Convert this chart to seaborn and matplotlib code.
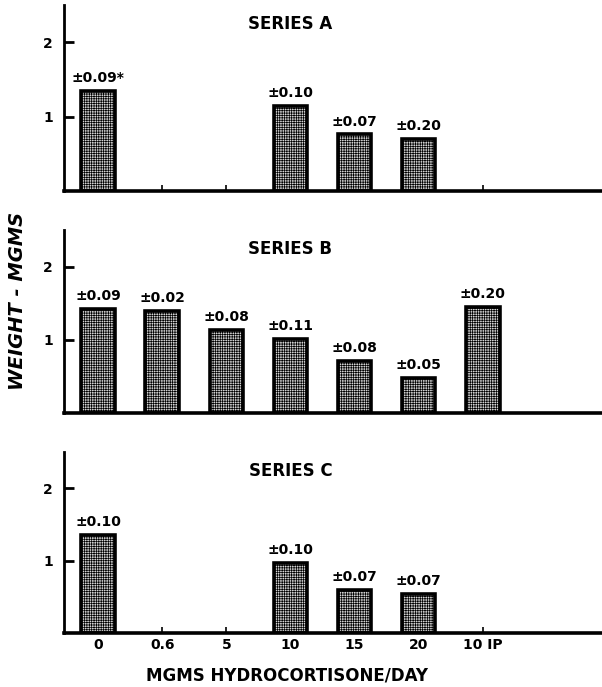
import numpy as np
import pandas as pd
import matplotlib
matplotlib.use("Agg")
import matplotlib.pyplot as plt
import seaborn as sns

# ---- data ----
doses = ["0", "0.6", "5", "10", "15", "20", "10 IP"]
series_names = ["SERIES A", "SERIES B", "SERIES C"]

series_a_values = [1.34, np.nan, np.nan, 1.14, 0.76, 0.70, np.nan]
series_a_errors = ["±0.09*", "", "", "±0.10", "±0.07", "±0.20", ""]

series_b_values = [1.42, 1.40, 1.13, 1.01, 0.71, 0.48, 1.45]
series_b_errors = ["±0.09", "±0.02", "±0.08", "±0.11", "±0.08", "±0.05", "±0.20"]

series_c_values = [1.36, np.nan, np.nan, 0.97, 0.60, 0.54, np.nan]
series_c_errors = ["±0.10", "", "", "±0.10", "±0.07", "±0.07", ""]

y_ticks = [1, 2]
x_label = "MGMS HYDROCORTISONE/DAY"
y_label = "WEIGHT - MGMS"

# ---- table ----
rows = []
for name, vals, errs in zip(series_names,
                            [series_a_values, series_b_values, series_c_values],
                            [series_a_errors, series_b_errors, series_c_errors]):
    for d, v, e in zip(doses, vals, errs):
        if not np.isnan(v):
            rows.append({"series": name, "dose": d, "weight": v, "err": e})
df = pd.DataFrame(rows)

sns.set_theme(style="white")
plt.rcParams["font.family"] = ["DejaVu Sans"]
plt.rcParams["hatch.linewidth"] = 0.5
for k in ["text.color", "axes.labelcolor", "xtick.color", "ytick.color"]:
    plt.rcParams[k] = "black"

fig = plt.figure(figsize=(6.02, 6.87), dpi=100)
H = 687.0
W = 602.0
left = 64 / W
width = 1.0 - left + 0.01
panels = [(5, 191), (230, 413), (452, 633)]

for i, (name, (top, bot)) in enumerate(zip(series_names, panels)):
    ax = fig.add_axes([left, 1 - bot / H, width, (bot - top) / H])
    sub = df[df["series"] == name]
    sns.barplot(data=sub, x="dose", y="weight", order=doses, ax=ax,
                color="#d4d4d4", edgecolor="black", linewidth=2.6,
                width=0.52, errorbar=None, saturation=1)
    for p in ax.patches:
        p.set_hatch("+++++++")
    for _, r in sub.iterrows():
        xi = doses.index(r["dose"])
        ax.text(xi, r["weight"] + 0.08, r["err"], ha="center", va="bottom",
                fontsize=10, fontweight="bold", color="black")
    ax.text(3, 2.24, name, ha="center", va="center", fontsize=12,
            fontweight="bold", color="black")
    ax.set_ylim(0, 2.5)
    ax.set_xlim(-0.53, 7.95)
    ax.set_yticks(y_ticks)
    ax.set_yticklabels([str(t) for t in y_ticks], fontweight="bold", fontsize=10)
    ax.tick_params(axis="y", direction="in", length=7, width=2, left=True, pad=8)
    ax.tick_params(axis="x", direction="in", length=4, width=1.2, bottom=True)
    ax.set_xlabel("")
    ax.set_ylabel("")
    for s in ["top", "right"]:
        ax.spines[s].set_visible(False)
    ax.spines["left"].set_linewidth(2.0)
    ax.spines["bottom"].set_linewidth(2.6)
    ax.spines["left"].set_color("black")
    ax.spines["bottom"].set_color("black")
    if i < 2:
        ax.set_xticklabels([])
    else:
        ax.set_xticks(range(len(doses)))
        ax.set_xticklabels(doses, fontweight="bold", fontsize=10)

fig.text(287 / W, 1 - 675 / H, x_label, ha="center", va="center",
         fontsize=12, fontweight="bold")
fig.text(18 / W, 1 - 301 / H, y_label, rotation=90, ha="center", va="center",
         fontsize=14, fontweight="bold", fontstyle="italic")

fig.savefig("out.png", dpi=100, facecolor="white")
